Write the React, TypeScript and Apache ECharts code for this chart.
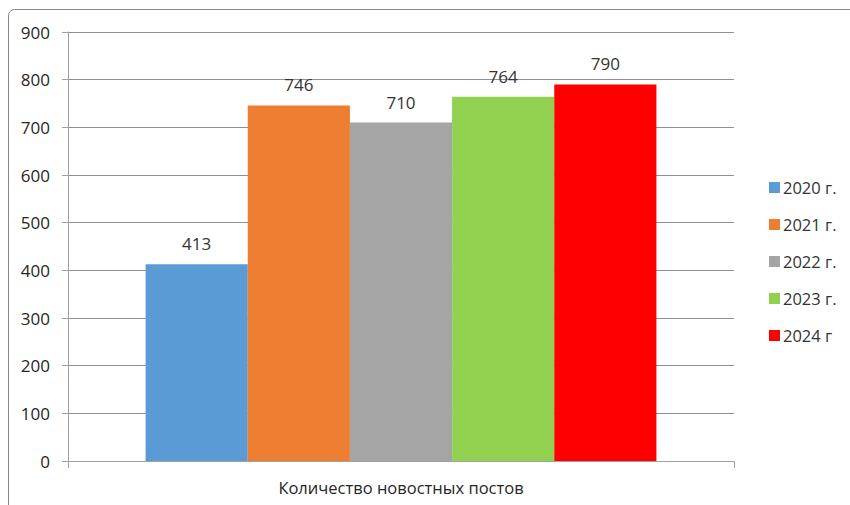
import React, { useEffect, useRef } from "react";
import * as echarts from "echarts";

const categories = ["Количество новостных постов"];
const seriesNames = ["2020 г.", "2021 г.", "2022 г.", "2023 г.", "2024 г"];
const seriesValues = [[413], [746], [710], [764], [790]];
const seriesColors = ["#5B9BD5", "#ED7D31", "#A5A5A5", "#92D050", "#FF0000"];
const yTicks = { min: 0, max: 900, interval: 100 };

const FONT = "'Open Sans', 'Noto Sans', sans-serif";

export default function App() {
  const ref = useRef<HTMLDivElement>(null);
  useEffect(() => {
    if (!ref.current) return;
    const chart = echarts.init(ref.current, null, { renderer: "svg" });
    chart.setOption({
      animation: false,
      backgroundColor: "#ffffff",
      textStyle: { fontFamily: FONT },
      graphic: [
        {
          type: "rect",
          shape: { x: 8.5, y: 9.5, width: 900, height: 600, r: 6 },
          style: { fill: "none", stroke: "#888888", lineWidth: 1 },
          silent: true,
          z: -10,
        },
      ],
      grid: { left: 68, right: 116, top: 32, bottom: 44, containLabel: false },
      legend: {
        orient: "vertical",
        left: 764,
        top: 174,
        itemWidth: 11,
        itemHeight: 11,
        itemGap: 20,
        icon: "rect",
        textStyle: { fontFamily: FONT, fontSize: 16.5, color: "#333333", padding: [0, 0, 0, -2] },
        data: seriesNames,
      },
      xAxis: {
        type: "category",
        data: categories,
        axisLine: { show: true, lineStyle: { color: "#a0a0a0", width: 1 } },
        axisTick: { show: true, length: 7, lineStyle: { color: "#a0a0a0" } },
        axisLabel: { fontFamily: FONT, fontSize: 16.5, color: "#262626", margin: 18 },
      },
      yAxis: {
        type: "value",
        min: yTicks.min,
        max: yTicks.max,
        interval: yTicks.interval,
        axisLine: { show: true, lineStyle: { color: "#a0a0a0", width: 1 } },
        axisTick: { show: true, length: 6, lineStyle: { color: "#a0a0a0" } },
        splitLine: { show: true, lineStyle: { color: "#909090", width: 1 } },
        axisLabel: { fontFamily: FONT, fontSize: 17, color: "#262626", margin: 18 },
      },
      series: seriesNames.map((name, i) => ({
        name,
        type: "bar",
        data: seriesValues[i],
        barGap: "0%",
        barCategoryGap: "23.3%",
        itemStyle: { color: seriesColors[i] },
        label: {
          show: true,
          position: "top",
          distance: 12,
          fontFamily: FONT,
          fontSize: 17,
          color: "#333333",
        },
      })),
    });
    return () => chart.dispose();
  }, []);
  return (
    <div
      ref={ref}
      style={{ position: "absolute", left: 0, top: 0, width: 850, height: 505 }}
    />
  );
}
